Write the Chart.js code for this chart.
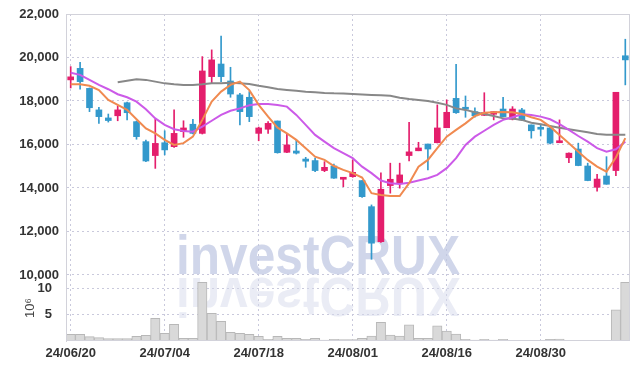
<!DOCTYPE html>
<html>
<head>
<meta charset="utf-8">
<script src="https://cdn.jsdelivr.net/npm/chart.js"></script>
<style>
    html, body { margin: 0; padding: 0; background: #fff; }
    #wrap { width: 639px; height: 370px; }
</style>
</head>
<body>
<div id="wrap"><canvas id="stockChart"></canvas></div>
<script>
// 거래일 (24/06/20 ~ 24/09/12)
const dates = [
    '24/06/20', '24/06/21', '24/06/24', '24/06/25', '24/06/26', '24/06/27', '24/06/28',
    '24/07/01', '24/07/02', '24/07/03', '24/07/04', '24/07/05',
    '24/07/08', '24/07/09', '24/07/10', '24/07/11', '24/07/12',
    '24/07/15', '24/07/16', '24/07/17', '24/07/18', '24/07/19',
    '24/07/22', '24/07/23', '24/07/24', '24/07/25', '24/07/26',
    '24/07/29', '24/07/30', '24/07/31', '24/08/01', '24/08/02',
    '24/08/05', '24/08/06', '24/08/07', '24/08/08', '24/08/09',
    '24/08/12', '24/08/13', '24/08/14', '24/08/16',
    '24/08/19', '24/08/20', '24/08/21', '24/08/22', '24/08/23',
    '24/08/26', '24/08/27', '24/08/28', '24/08/29', '24/08/30',
    '24/09/02', '24/09/03', '24/09/04', '24/09/05', '24/09/06',
    '24/09/09', '24/09/10', '24/09/11', '24/09/12'
];

// 시가 / 고가 / 저가 / 종가
const opens = [
    18970, 19500, 18580, 17590, 17220, 17320, 17920, 17050, 16130, 15490,
    16080, 15900, 16590, 16930, 16510, 19120, 19700, 18920, 18280, 18170,
    16510, 16700, 17080, 15640, 15700, 15330, 15260, 14800, 15010, 14400,
    14520, 14340, 13140, 11530, 14110, 14240, 15490, 15710, 16020, 16080,
    16770, 18120, 17710, 17510, 17340, 17390, 17630, 17160, 17590, 16900,
    16760, 16760, 16080, 15390, 15790, 15010, 14030, 14550, 14800, 20080
];
const highs = [
    19580, 19780, 18600, 17710, 17400, 17770, 17950, 17080, 16200, 17160,
    16630, 17590, 17090, 17160, 20040, 20350, 20990, 19550, 18350, 18430,
    16800, 17050, 17080, 16510, 16210, 15410, 15370, 15210, 15100, 14480,
    15290, 14340, 13220, 14700, 15140, 15140, 17020, 16100, 16020, 17820,
    18050, 19690, 18230, 17690, 18380, 17510, 18170, 17740, 17660, 16900,
    16940, 16820, 17130, 15620, 16060, 15140, 14630, 15440, 18400, 20840
];
const lows = [
    18600, 18540, 17510, 16970, 17030, 17090, 17130, 16240, 15210, 14900,
    15520, 15870, 16330, 16480, 16480, 18840, 18890, 18170, 16900, 17050,
    16170, 16510, 15600, 15620, 15560, 14950, 14750, 14750, 14440, 14060,
    14490, 13570, 10720, 11500, 13760, 13990, 15240, 15710, 14830, 16070,
    16770, 17430, 17250, 17250, 17330, 17130, 17270, 17130, 17090, 16290,
    16390, 16020, 16080, 15160, 15020, 14330, 13850, 14170, 14570, 18740
];
const closes = [
    19110, 18890, 17690, 17280, 17100, 17590, 17460, 16360, 15240, 16050,
    15750, 16510, 16760, 16510, 19380, 19890, 19120, 18320, 17510, 17280,
    16760, 16970, 15620, 15980, 15600, 15230, 14800, 14950, 14450, 14470,
    14720, 13600, 11460, 13940, 14400, 14600, 15660, 15840, 15790, 16760,
    17480, 17460, 17620, 17320, 17460, 17510, 17280, 17630, 17130, 16630,
    16700, 16060, 16130, 15600, 15030, 14340, 14410, 14170, 18400, 19890
];

// 이동평균선
const maShort = [
    18770, 18770, 18700, 18500, 18050, 17820, 17590, 17160, 16740, 16510,
    16210, 15980, 16060, 16360, 17130, 17970, 18430, 18740, 18890, 18500,
    17820, 17280, 16770, 16510, 16210, 15830, 15440, 15290, 15010, 14830,
    14680, 14480, 13760, 13680, 13630, 13630, 14220, 14980, 15290, 15830,
    16360, 16670, 16970, 17310, 17460, 17480, 17490, 17480, 17400, 17250,
    17130, 16820, 16440, 16060, 15670, 15290, 14980, 14750, 15400, 16290
];
const maMid = [
    19300, 19200, 18970, 18740, 18540, 18310, 18170, 17970, 17620, 17200,
    16900, 16700, 16620, 16590, 16820, 17090, 17360, 17550, 17660, 17800,
    17860, 17860, 17820, 17740, 17360, 16900, 16440, 16130, 15830, 15600,
    15370, 14980, 14680, 14340, 14220, 14180, 14240, 14340, 14450, 14600,
    14910, 15370, 15980, 16360, 16630, 16900, 17130, 17250, 17390, 17360,
    17280, 17160, 16940, 16670, 16390, 16130, 15830, 15670, 15780, 16130
];
const maLong = [
    null, null, null, null, null, 18860, 18930, 19000, 18970, 18890,
    18810, 18770, 18740, 18740, 18770, 18810, 18810, 18840, 18810, 18780,
    18700, 18630, 18550, 18510, 18470, 18430, 18400, 18370, 18350, 18340,
    18320, 18300, 18280, 18260, 18240, 18150, 18090, 18050, 18000, 17920,
    17820, 17660, 17590, 17480, 17400, 17310, 17200, 17190, 17130, 17000,
    16930, 16850, 16770, 16700, 16630, 16560, 16480, 16450, 16450, 16450
];

// 거래량 (단위 10^6)
const volumes = [
    1.27, 1.27, 0.82, 0.63, 0.44, 0.44, 0.44, 0.89, 1.08, 4.30,
    1.46, 3.16, 0.51, 0.51, 11.10, 5.25, 3.73, 1.64, 1.46, 1.27,
    0.89, 0.32, 0.89, 0.51, 0.51, 0.32, 0.51, 0.19, 0.32, 0.25,
    0.25, 0.51, 0.95, 3.54, 1.14, 0.95, 3.04, 0.51, 0.51, 2.85,
    1.90, 1.33, 0.32, 0.19, 0.32, 0.19, 0.32, 0.15, 0.15, 0.15,
    0.15, 0.30, 0.38, 0.12, 0.12, 0.12, 0.12, 0.12, 5.88, 11.10
];

const priceTicks = [10000, 12000, 14000, 16000, 18000, 20000, 22000];
const volumeTicks = [5, 10];
const volumeMax = 12.5;

const UP = '#e41e6c';
const DOWN = '#3399cc';
const GRID = '#c9c9dc';
const FONT = '"Liberation Sans", Arial, sans-serif';

const isUp = i => closes[i] >= opens[i];
const candleColor = ctx => isUp(ctx.dataIndex) ? UP : DOWN;

// 워터마크 (반사 포함)
const watermark = {
    id: 'watermark',
    beforeDatasetsDraw(chart) {
        const ctx = chart.ctx;
        const base = chart.scales.y.getPixelForValue(10000);
        const text = 'investCRUX';
        ctx.save();
        ctx.font = 'bold 56px ' + FONT;
        const sx = 284 / ctx.measureText(text).width;
        ctx.translate(176, base - 1);
        ctx.scale(sx, 1);
        ctx.fillStyle = 'rgba(190,198,226,0.72)';
        ctx.fillText(text, 0, 0);
        ctx.scale(1, -1);
        ctx.translate(0, -4);
        ctx.fillStyle = 'rgba(214,218,236,0.5)';
        ctx.fillText(text, 0, 0);
        ctx.restore();
    }
};

// 차트 테두리
const frame = {
    id: 'frame',
    afterDatasetsDraw(chart) {
        const {ctx, chartArea: a} = chart;
        ctx.save();
        ctx.strokeStyle = '#d2d2da';
        ctx.lineWidth = 1;
        ctx.strokeRect(a.left + 0.5, a.top + 0.5, a.right - a.left - 1, a.bottom - a.top - 1);
        ctx.restore();
    }
};

// 세로축 크기 고정
const fixVertical = s => {
    s.width = 66;
    s.paddingTop = 0;
    s.paddingBottom = 0;
};

const tickFont = {family: FONT, size: 13, weight: 'bold'};

new Chart(document.getElementById('stockChart'), {
    type: 'bar',
    data: {
        labels: dates,
        datasets: [{
            type: 'line',
            data: maShort,
            borderColor: '#f08a50',
            borderWidth: 2,
            pointRadius: 0,
            tension: 0,
            yAxisID: 'y',
            order: 0
        }, {
            type: 'line',
            data: maMid,
            borderColor: '#cc5ae8',
            borderWidth: 2,
            pointRadius: 0,
            tension: 0,
            yAxisID: 'y',
            order: 0
        }, {
            type: 'line',
            data: maLong,
            borderColor: '#888888',
            borderWidth: 2,
            pointRadius: 0,
            tension: 0,
            yAxisID: 'y',
            order: 0
        }, {
            data: opens.map((o, i) => [o, closes[i]]),
            backgroundColor: candleColor,
            borderWidth: 0,
            barThickness: 6,
            minBarLength: 2,
            grouped: false,
            yAxisID: 'y',
            order: 1
        }, {
            data: lows.map((l, i) => [l, highs[i]]),
            backgroundColor: candleColor,
            borderWidth: 0,
            barThickness: 1,
            grouped: false,
            yAxisID: 'y',
            order: 2
        }, {
            data: volumes,
            backgroundColor: '#d9d9d9',
            borderColor: '#b8b8b8',
            borderWidth: 1,
            barPercentage: 1,
            categoryPercentage: 1,
            grouped: false,
            yAxisID: 'yv',
            order: 3
        }]
    },
    options: {
        responsive: true,
        maintainAspectRatio: false,
        animation: false,
        layout: {padding: {top: 14, right: 9, left: 0, bottom: 0}},
        plugins: {
            legend: {display: false},
            tooltip: {enabled: false}
        },
        scales: {
            x: {
                offset: true,
                grid: {
                    offset: false,
                    drawTicks: false,
                    color: c => c.index % 10 === 0 ? GRID : 'transparent'
                },
                border: {display: false, dash: [2, 3]},
                ticks: {
                    autoSkip: false,
                    maxRotation: 0,
                    padding: 5,
                    color: '#333',
                    font: tickFont,
                    callback: (v, i) => i % 10 === 0 ? dates[i] : ''
                },
                afterFit: s => { s.height = 29; }
            },
            y: {
                stack: 'panels',
                stackWeight: 3.95,
                weight: 2,
                min: priceTicks[0],
                max: priceTicks[priceTicks.length - 1],
                grid: {color: GRID, drawTicks: false},
                border: {display: true, color: '#d2d2da', dash: [2, 3]},
                ticks: {
                    autoSkip: false,
                    padding: 7,
                    color: '#333',
                    font: tickFont,
                    callback: v => priceTicks.includes(v) ? v.toLocaleString('en-US') : ''
                },
                afterBuildTicks: s => { s.ticks = priceTicks.map(v => ({value: v})); },
                afterFit: fixVertical
            },
            yv: {
                stack: 'panels',
                stackWeight: 1,
                weight: 1,
                min: 0,
                max: volumeMax,
                grid: {
                    drawTicks: false,
                    color: c => volumeTicks.includes(c.tick.value) ? GRID : 'transparent'
                },
                border: {display: true, color: '#d2d2da', dash: [2, 3]},
                ticks: {
                    autoSkip: false,
                    padding: 14,
                    color: '#333',
                    font: tickFont,
                    callback: v => volumeTicks.includes(v) ? String(v) : ''
                },
                afterBuildTicks: s => { s.ticks = [0, ...volumeTicks, volumeMax].map(v => ({value: v})); },
                title: {
                    display: true,
                    text: '10⁶',
                    color: '#444',
                    font: {family: FONT, size: 13},
                    padding: {top: 23, bottom: 0}
                },
                afterFit: fixVertical
            }
        }
    },
    plugins: [watermark, frame]
});
</script>
</body>
</html>
